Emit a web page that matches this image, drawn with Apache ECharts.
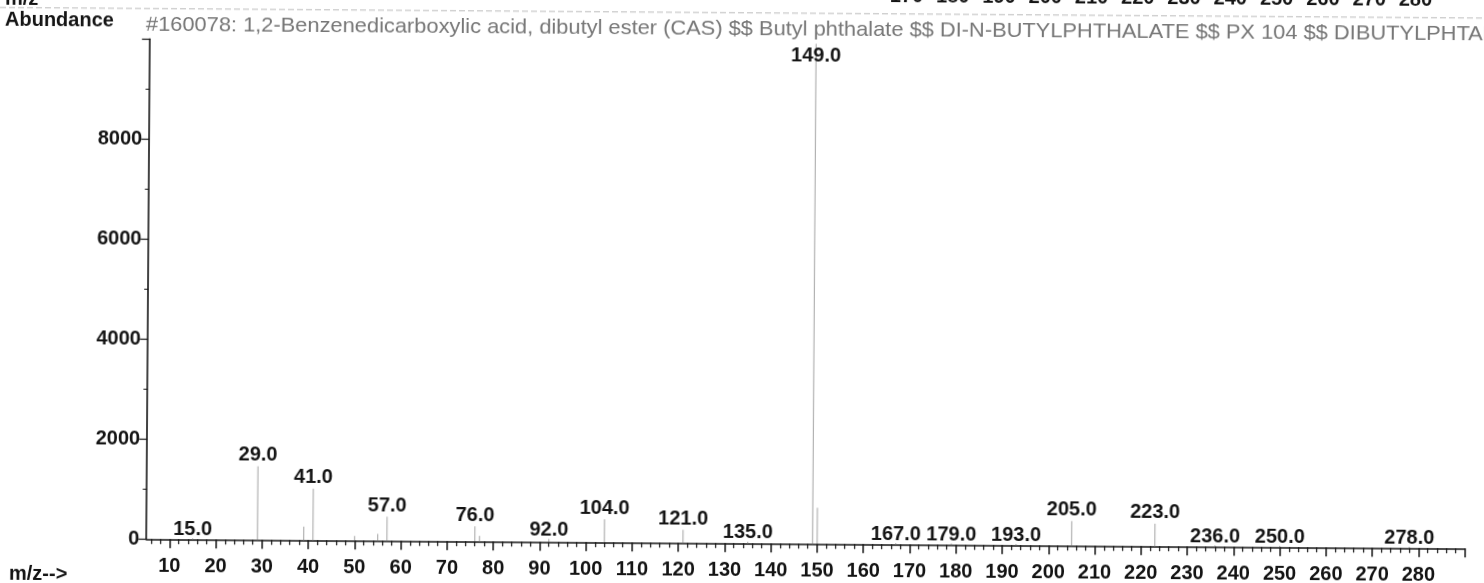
<!DOCTYPE html>
<html>
<head>
<meta charset="utf-8">
<script src="https://cdn.jsdelivr.net/npm/echarts@6/dist/echarts.min.js"></script>
<style>
  html, body { margin: 0; padding: 0; background: #ffffff; }
  body { position: relative; width: 1484px; height: 583px; overflow: hidden; }
  /* the printed page sits slightly askew; the canvas is padded so the turned sheet still fills the view */
  #chart {
    position: absolute; left: -20px; top: -20px;
    width: 1524px; height: 623px;
    transform: rotate(0.41deg); transform-origin: 50% 50%;
    background: #ffffff;
  }
</style>
</head>
<body>
<div id="chart"></div>
<script>
// Library spectrum of dibutyl phthalate: m/z and abundance of each stick
const mzValues = [15, 29, 39, 41, 50, 55, 57, 76, 77, 92, 104, 121, 135, 149, 150, 167, 179, 193, 205, 223, 236, 250, 278];
const abundances = [20, 1470, 270, 1030, 90, 135, 480, 300, 110, 60, 460, 260, 30, 9999, 720, 25, 25, 25, 490, 450, 25, 25, 25];
// Peaks that carry an m/z annotation
const labeledMz = [15, 29, 41, 57, 76, 92, 104, 121, 135, 149, 167, 179, 193, 205, 223, 236, 250, 278];

// Axis tick labels
const xTickLabels = [10, 20, 30, 40, 50, 60, 70, 80, 90, 100, 110, 120, 130, 140, 150, 160, 170, 180, 190, 200, 210, 220, 230, 240, 250, 260, 270, 280];
const yTickLabels = [0, 2000, 4000, 6000, 8000];
// Axis labels of the panel above, mostly cut off by the page edge
const upperPanelLabels = [170, 180, 190, 200, 210, 220, 230, 240, 250, 260, 270, 280];

const titleText = '#160078: 1,2-Benzenedicarboxylic acid, dibutyl ester (CAS) $$ Butyl phthalate $$ DI-N-BUTYLPHTHALATE $$ PX 104 $$ DIBUTYLPHTAL';

const FONT = '"Liberation Sans", Arial, sans-serif';
const INK = '#141414';

const xMin = 5, xMax = 290, yMax = 10000;

// major x ticks every 10 plus the axis end, minor ticks every 2
const xMajorTicks = xTickLabels.concat([xMax]);
const xMinorTicks = [];
for (let v = 6; v < xMax; v += 2) {
  if (v % 10 !== 0) xMinorTicks.push(v);
}

const basePeak = mzValues[abundances.indexOf(Math.max(...abundances))];

const barData = mzValues.map((m, i) => {
  const item = { value: [m, abundances[i]] };
  if (labeledMz.includes(m)) {
    item.label = { show: true };
    if (m === basePeak) {
      // the base-peak label sits just under the title line
      item.label.offset = [0, 23];
    } else if (abundances[i] < 100) {
      // labels of tiny peaks rest on the axis
      item.label.distance = -1;
    }
  }
  return item;
});

const chart = echarts.init(document.getElementById('chart'), null, { renderer: 'canvas' });

const labelFont = { fontSize: 20, fontWeight: 'bold', fontFamily: FONT, color: INK };

const option = {
  animation: false,
  backgroundColor: '#ffffff',
  grid: { left: 168.2, right: 37.4, top: 63.25, bottom: 59.75, containLabel: false, outerBoundsMode: 'none' },
  xAxis: [
    {
      type: 'value', position: 'bottom', min: xMin, max: xMax,
      axisLine: { show: true, onZero: false, lineStyle: { color: INK, width: 1.6 } },
      axisTick: { show: true, customValues: xMajorTicks, length: 9, lineStyle: { color: INK, width: 1.5 } },
      axisLabel: Object.assign({ show: true, customValues: xTickLabels, margin: 17 }, labelFont),
      splitLine: { show: false }
    },
    {
      type: 'value', position: 'bottom', min: xMin, max: xMax,
      axisLine: { show: false },
      axisTick: { show: true, customValues: xMinorTicks, length: 5, lineStyle: { color: INK, width: 1.2 } },
      axisLabel: { show: false },
      splitLine: { show: false }
    }
  ],
  yAxis: {
    type: 'value', position: 'left', min: 0, max: yMax, interval: 2000,
    axisLine: { show: true, lineStyle: { color: INK, width: 1.6 } },
    axisTick: { show: true, length: 8, lineStyle: { color: INK, width: 1.2 } },
    minorTick: { show: true, splitNumber: 2, length: 4, lineStyle: { color: INK, width: 1 } },
    axisLabel: Object.assign({ show: true, customValues: yTickLabels, margin: 7, formatter: v => String(v) }, labelFont),
    splitLine: { show: false }
  },
  series: [
    {
      type: 'bar', xAxisIndex: 0, yAxisIndex: 0,
      barWidth: 1, silent: true,
      itemStyle: { color: '#a3a3a3' },
      label: Object.assign({
        show: false, position: 'top', distance: 1,
        formatter: p => p.value[0].toFixed(1)
      }, labelFont),
      data: barData
    }
  ]
};

chart.setOption(option);

// Texts around the plot: header, axis names and the clipped upper-panel labels
const graphics = [
  {
    type: 'line', silent: true,
    shape: { x1: 0, y1: 32.8, x2: 1524, y2: 32.8 },
    style: { stroke: '#bdbdbd', lineWidth: 1, lineDash: [6, 3] }
  },
  {
    type: 'text', x: 23, y: 45.3, silent: true,
    style: { text: 'Abundance', font: 'bold 20px ' + FONT, fill: INK, verticalAlign: 'middle' }
  },
  {
    type: 'text', x: 164, y: 49, scaleX: 1.04, silent: true,
    style: { text: titleText, font: '21px ' + FONT, fill: '#767676', verticalAlign: 'middle' }
  },
  {
    type: 'text', x: 31, y: 599, silent: true,
    style: { text: 'm/z-->', font: 'bold 20px ' + FONT, fill: INK, verticalAlign: 'middle' }
  },
  {
    type: 'text', x: 23, y: 24, silent: true,
    style: { text: 'm/z', font: 'bold 20px ' + FONT, fill: INK, verticalAlign: 'middle' }
  }
];
upperPanelLabels.forEach(v => {
  const px = chart.convertToPixel({ xAxisIndex: 0 }, v) - 7;
  graphics.push({
    type: 'text', x: px, y: 15.5, silent: true,
    style: { text: String(v), font: 'bold 20px ' + FONT, fill: INK, align: 'center', verticalAlign: 'middle' }
  });
});
chart.setOption({ graphic: graphics });
</script>
</body>
</html>
